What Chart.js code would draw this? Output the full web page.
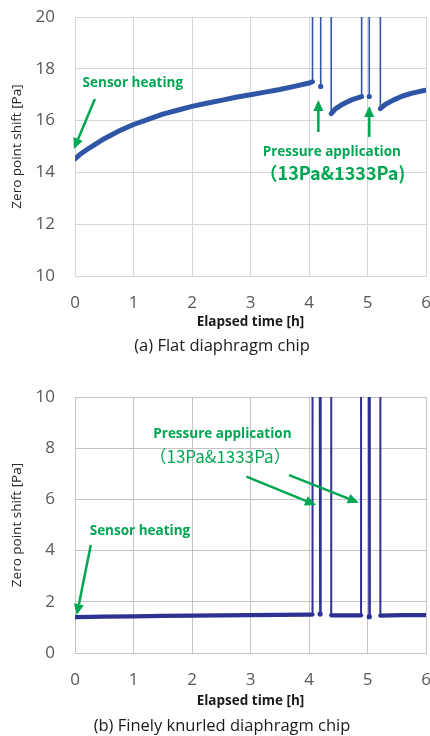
<!DOCTYPE html>
<html><head><meta charset="utf-8">
<script src="https://cdn.jsdelivr.net/npm/chart.js@4.4.1/dist/chart.umd.min.js"></script>
<style>
html,body{margin:0;padding:0;background:#fff;width:430px;height:736px;overflow:hidden}
.box{position:absolute;left:0;width:430px;height:368px}
canvas{display:block}
</style></head><body>
<div class="box" style="top:0"><canvas id="c1" width="430" height="368"></canvas></div>
<div class="box" style="top:368px"><canvas id="c2" width="430" height="368"></canvas></div>
<script>
// ---------- DATA ----------
// (a) Flat diaphragm chip  (values above 20 are off-scale pressure readings)
const hoursA = [0, 0.1, 0.25, 0.5, 0.75, 1, 1.25, 1.5, 1.75, 2, 2.25, 2.5, 2.75, 3, 3.25, 3.5, 3.75, 4, 4.06,
  4.06, 4.2, 4.2, 4.2, 4.38, 4.38, 4.45, 4.55, 4.65, 4.75, 4.9,
  4.9, 5.03, 5.03, 5.03, 5.22, 5.22, 5.3, 5.45, 5.6, 5.75, 5.9, 6];
const shiftA = [14.52, 14.72, 14.95, 15.3, 15.6, 15.85, 16.05, 16.25, 16.4, 16.55, 16.67, 16.78, 16.9, 17.0, 17.1, 17.2, 17.32, 17.45, 17.5,
  35, 35, 17.32, 35, 35, 16.27, 16.45, 16.6, 16.72, 16.82, 16.93,
  35, 35, 16.93, 35, 35, 16.46, 16.62, 16.8, 16.95, 17.05, 17.13, 17.17];
// (b) Finely knurled diaphragm chip
const hoursB = [0, 0.5, 1, 1.5, 2, 2.5, 3, 3.5, 4, 4.06,
  4.06, 4.18, 4.19, 4.2, 4.38, 4.38, 4.6, 4.89,
  4.89, 5.02, 5.03, 5.04, 5.22, 5.22, 5.6, 6];
const shiftB = [1.40, 1.42, 1.43, 1.45, 1.46, 1.47, 1.48, 1.49, 1.50, 1.50,
  15, 15, 1.52, 15, 15, 1.47, 1.47, 1.47,
  15, 15, 1.42, 15, 15, 1.46, 1.48, 1.48];
const xTicks = [0, 1, 2, 3, 4, 5, 6];
const yTicksA = [10, 12, 14, 16, 18, 20];
const yTicksB = [0, 2, 4, 6, 8, 10];
const xTitle = 'Elapsed time [h]';
const yTitle = 'Zero point shift [Pa]';
const captionA = '(a) Flat diaphragm chip';
const captionB = '(b) Finely knurled diaphragm chip';

// ---------- STYLE / ANNOTATIONS ----------
const GREEN = '#00a651';
const notesA = [
  {kind:'text', text:'Sensor heating', x:0.13, y:17.45, align:'left', font:'bold 13.5px "Open Sans"'},
  {kind:'arrow', x1:0.34, y1:16.83, x2:-0.02, y2:14.9},
  {kind:'text', text:'Pressure application', x:4.39, y:14.79, align:'center', font:'bold 13.5px "Open Sans"'},
  {kind:'text', text:'（13Pa&1333Pa)', x:4.4, y:13.98, align:'center', font:'bold 18px "Noto Sans CJK JP"'},
  {kind:'arrow', x1:4.16, y1:15.56, x2:4.16, y2:16.8},
  {kind:'arrow', x1:5.03, y1:15.37, x2:5.03, y2:16.56}
];
const notesB = [
  {kind:'text', text:'Pressure application', x:2.52, y:8.55, align:'center', font:'bold 13.5px "Open Sans"'},
  {kind:'text', text:'（13Pa&1333Pa）', x:2.48, y:7.67, align:'center', font:'17px "Noto Sans CJK JP"'},
  {kind:'arrow', x1:2.93, y1:6.89, x2:4.12, y2:5.78},
  {kind:'arrow', x1:3.66, y1:6.95, x2:4.85, y2:5.87},
  {kind:'text', text:'Sensor heating', x:1.11, y:4.74, align:'center', font:'bold 13.5px "Open Sans"'},
  {kind:'arrow', x1:0.27, y1:4.22, x2:0.03, y2:1.48}
];

function makeNotes(items, caption, capY) {
  return {
    id: 'notes',
    afterDraw(chart) {
      const {ctx, scales: {x, y}} = chart;
      ctx.save();
      for (const n of items) {
        if (n.kind === 'text') {
          ctx.font = n.font; ctx.fillStyle = GREEN;
          ctx.textAlign = n.align; ctx.textBaseline = 'middle';
          ctx.fillText(n.text, x.getPixelForValue(n.x), y.getPixelForValue(n.y));
        } else {
          const x1 = x.getPixelForValue(n.x1), y1 = y.getPixelForValue(n.y1);
          const x2 = x.getPixelForValue(n.x2), y2 = y.getPixelForValue(n.y2);
          const a = Math.atan2(y2 - y1, x2 - x1), hl = 11, hw = 5;
          const bx = x2 - hl * Math.cos(a), by = y2 - hl * Math.sin(a);
          ctx.strokeStyle = GREEN; ctx.fillStyle = GREEN; ctx.lineWidth = 2.5;
          ctx.beginPath(); ctx.moveTo(x1, y1); ctx.lineTo(bx, by); ctx.stroke();
          ctx.beginPath(); ctx.moveTo(x2, y2);
          ctx.lineTo(bx + hw * Math.sin(a), by - hw * Math.cos(a));
          ctx.lineTo(bx - hw * Math.sin(a), by + hw * Math.cos(a));
          ctx.closePath(); ctx.fill();
        }
      }
      ctx.font = '16.5px "Open Sans"'; ctx.fillStyle = '#1a1a1a';
      ctx.textAlign = 'center'; ctx.textBaseline = 'middle';
      ctx.fillText(caption, 222, capY);
      ctx.restore();
    }
  };
}

function build(id, hours, values, yTicks, color, grid, thick, thin, pad, xh, capY, notes, caption) {
  const ymin = yTicks[0], ymax = yTicks[yTicks.length - 1];
  const pts = hours.map((h, i) => ({x: h, y: values[i]}));
  const off = v => v > ymax;
  new Chart(document.getElementById(id), {
    type: 'line',
    data: {datasets: [{
      data: pts,
      borderColor: color, backgroundColor: color,
      borderWidth: thick, tension: 0,
      borderJoinStyle: 'round', borderCapStyle: 'round',
      pointRadius: ctx => {
        const i = ctx.dataIndex;
        return (i > 0 && i < values.length - 1 && off(values[i-1]) && off(values[i+1])) ? 2.6 : 0;
      },
      pointBorderWidth: 0,
      segment: {borderWidth: ctx => (off(ctx.p0.parsed.y) || off(ctx.p1.parsed.y)) ? thin : thick}
    }]},
    options: {
      responsive: false, devicePixelRatio: 1, animation: false,
      layout: {padding: {top: pad.top, bottom: pad.bottom, left: 0, right: 4}, autoPadding: false},
      plugins: {legend: {display: false}, tooltip: {enabled: false}},
      scales: {
        x: {
          type: 'linear', min: 0, max: 6,
          afterBuildTicks: s => { s.ticks = xTicks.map(v => ({value: v})); },
          afterFit: s => { s.height = xh; s.paddingLeft = 0; s.paddingRight = 0; },
          grid: {color: grid, drawTicks: false, lineWidth: 1},
          border: {display: true, color: grid},
          ticks: {padding: 17, color: '#595959', font: {family: 'Open Sans', size: 17}, maxRotation: 0},
          title: {display: true, text: xTitle, color: '#1a1a1a', padding: 0,
                  font: {family: 'Open Sans', size: 13.5, weight: 'bold', lineHeight: 1.2}}
        },
        y: {
          min: ymin, max: ymax,
          afterBuildTicks: s => { s.ticks = yTicks.map(v => ({value: v})); },
          afterFit: s => { s.width = 75; s.paddingTop = 0; s.paddingBottom = 0; },
          grid: {color: grid, drawTicks: false, lineWidth: 1},
          border: {display: true, color: grid},
          ticks: {padding: 20, color: '#595959', font: {family: 'Open Sans', size: 17}},
          title: {display: true, text: yTitle, color: '#262626', padding: {top: 9, bottom: 0},
                  font: {family: 'Open Sans', size: 13.5, lineHeight: 1.2}}
        }
      }
    },
    plugins: [makeNotes(notes, caption, capY)]
  });
}

build('c1', hoursA, shiftA, yTicksA, '#2f56a6', '#d6d6d6', 5, 1.6, {top: 17, bottom: 37.5}, 54.5, 346, notesA, captionA);
build('c2', hoursB, shiftB, yTicksB, '#2e3192', '#c4c4c4', 4.3, 2, {top: 29, bottom: 26.8}, 56.2, 358, notesB, captionB);
</script>
</body></html>
